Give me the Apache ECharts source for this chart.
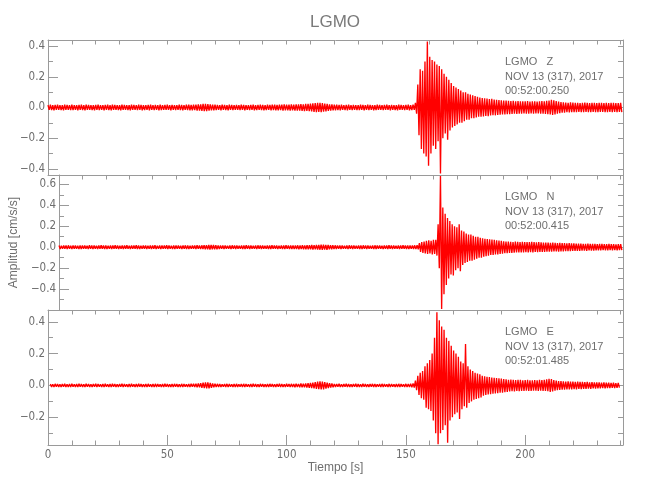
<!DOCTYPE html>
<html><head><meta charset="utf-8">
<script src="https://cdn.jsdelivr.net/npm/echarts@6/dist/echarts.min.js"></script>
<style>html,body{margin:0;padding:0;background:#fff}#c{width:650px;height:500px}</style>
</head><body><div id="c"></div>
<script>
// ---- Data (envelope of each trace, one pair per second) ----
const startZ = 0, startN = 0, startE = 1;

const zHi = [
.016,.018,.015,.017,.019,.016,.015,.018,.017,.016,
.018,.016,.015,.017,.018,.016,.019,.017,.015,.016,
.017,.018,.016,.015,.017,.019,.016,.018,.017,.015,
.016,.018,.017,.015,.016,.018,.017,.016,.019,.017,
.016,.015,.017,.018,.016,.017,.015,.018,.016,.017,
.018,.016,.017,.015,.016,.018,.017,.016,.018,.019,
.017,.018,.019,.02,.021,.023,.024,.022,.02,.019,
.018,.017,.016,.018,.017,.016,.018,.017,.016,.017,
.016,.018,.017,.016,.015,.017,.018,.016,.017,.018,
.017,.016,.018,.017,.019,.018,.017,.019,.018,.02,
.019,.018,.02,.019,.021,.02,.022,.021,.023,.024,
.025,.027,.029,.03,.031,.028,.026,.023,.021,.02,
.019,.018,.017,.018,.016,.017,.018,.016,.017,.015,
.016,.018,.017,.016,.018,.017,.015,.016,.018,.017,
.016,.017,.018,.016,.017,.015,.016,.018,.017,.016,
.017,.018,.016,.019,
.03,.15,.25,.24,.3,.43,
.33,.31,.3,.28,.27,.25,.22,.2,.18,.16,
.14,.13,.12,.11,.1,.1,.09,.085,.08,.075,
.07,.065,.062,.06,.058,.055,.056,.052,.05,.048,
.047,.045,.046,.044,.042,.043,.041,.042,.04,.041,
.04,.042,.039,.041,.04,.038,.04,.042,.041,.043,
.046,.05,.047,.042,.038,.035,.033,.032,.031,.033,
.032,.03,.031,.029,.03,.032,.03,.029,.031,.03,
.029,.03,.031,.028,.03,.029,.031,.03,.028,.029,.03];
const zLo = [
-.016,-.017,-.018,-.015,-.016,-.017,-.019,-.016,-.015,-.017,
-.017,-.015,-.018,-.016,-.017,-.019,-.016,-.015,-.017,-.018,
-.016,-.017,-.015,-.018,-.016,-.017,-.018,-.015,-.016,-.017,
-.018,-.016,-.015,-.017,-.018,-.016,-.015,-.017,-.016,-.018,
-.017,-.016,-.018,-.015,-.017,-.016,-.018,-.017,-.015,-.016,
-.016,-.018,-.015,-.017,-.016,-.017,-.018,-.016,-.017,-.018,
-.018,-.017,-.02,-.021,-.022,-.024,-.023,-.021,-.019,-.018,
-.017,-.016,-.018,-.016,-.017,-.018,-.016,-.017,-.015,-.016,
-.017,-.016,-.018,-.015,-.017,-.016,-.018,-.017,-.016,-.017,
-.018,-.017,-.016,-.018,-.017,-.019,-.018,-.017,-.02,-.019,
-.018,-.02,-.019,-.021,-.02,-.021,-.022,-.023,-.022,-.024,
-.026,-.028,-.03,-.029,-.031,-.027,-.025,-.022,-.021,-.019,
-.018,-.017,-.019,-.016,-.017,-.018,-.016,-.017,-.015,-.017,
-.017,-.016,-.018,-.015,-.017,-.016,-.018,-.017,-.016,-.015,
-.017,-.016,-.015,-.018,-.016,-.017,-.018,-.016,-.015,-.017,
-.016,-.018,-.017,-.016,
-.04,-.18,-.27,-.3,-.32,-.38,
-.3,-.25,-.27,-.22,-.43,-.2,-.17,-.21,-.15,-.13,
-.12,-.11,-.1,-.1,-.09,-.08,-.08,-.07,-.07,-.065,
-.06,-.06,-.058,-.055,-.056,-.052,-.05,-.051,-.048,-.047,
-.046,-.045,-.044,-.043,-.042,-.041,-.042,-.04,-.041,-.039,
-.04,-.041,-.039,-.04,-.038,-.039,-.041,-.04,-.042,-.044,
-.046,-.048,-.045,-.041,-.037,-.034,-.033,-.031,-.032,-.03,
-.031,-.03,-.029,-.031,-.03,-.028,-.03,-.031,-.029,-.03,
-.03,-.029,-.028,-.03,-.031,-.029,-.03,-.028,-.03,-.029,-.03];

const nHi = [
.016,.015,.017,.016,.018,.015,.016,.017,.015,.016,
.017,.016,.015,.018,.016,.017,.015,.016,.018,.017,
.016,.015,.017,.016,.018,.016,.015,.017,.016,.018,
.015,.017,.016,.018,.016,.015,.017,.016,.015,.017,
.016,.018,.015,.016,.017,.016,.018,.017,.015,.016,
.017,.016,.015,.017,.018,.016,.015,.017,.016,.018,
.017,.018,.019,.02,.021,.022,.021,.02,.018,.017,
.016,.017,.015,.016,.018,.017,.016,.015,.017,.016,
.018,.016,.017,.015,.016,.018,.017,.016,.015,.017,
.016,.018,.017,.016,.015,.017,.016,.018,.017,.016,
.017,.016,.018,.017,.019,.018,.02,.019,.021,.02,
.022,.023,.024,.025,.023,.022,.02,.019,.018,.017,
.016,.017,.015,.016,.018,.017,.016,.015,.017,.016,
.018,.016,.017,.015,.016,.018,.017,.016,.015,.017,
.016,.018,.017,.016,.015,.017,.016,.018,.017,.016,
.017,.016,.018,.02,
.04,.05,.055,.06,.065,.06,
.07,.07,.22,.68,.38,.32,.28,.25,.22,.2,
.19,.22,.16,.15,.13,.12,.12,.11,.1,.1,
.09,.085,.08,.078,.075,.072,.07,.066,.064,.06,
.056,.054,.055,.052,.05,.053,.051,.05,.052,.049,
.05,.048,.051,.049,.047,.05,.046,.044,.045,.043,
.042,.044,.041,.04,.042,.039,.04,.038,.039,.037,
.036,.035,.034,.035,.033,.032,.034,.033,.031,.032,
.03,.032,.031,.029,.03,.031,.029,.03,.028,.029,.03];
const nLo = [
-.017,-.016,-.015,-.018,-.016,-.017,-.015,-.016,-.018,-.017,
-.016,-.015,-.017,-.016,-.018,-.015,-.017,-.016,-.015,-.018,
-.017,-.016,-.018,-.015,-.016,-.017,-.016,-.018,-.015,-.016,
-.017,-.016,-.015,-.017,-.018,-.016,-.015,-.017,-.016,-.018,
-.015,-.017,-.016,-.018,-.016,-.015,-.017,-.016,-.018,-.017,
-.016,-.015,-.017,-.016,-.018,-.017,-.016,-.015,-.017,-.016,
-.018,-.017,-.019,-.021,-.022,-.02,-.021,-.019,-.018,-.016,
-.017,-.015,-.016,-.018,-.016,-.017,-.015,-.016,-.018,-.017,
-.016,-.017,-.015,-.016,-.018,-.016,-.017,-.015,-.016,-.018,
-.017,-.016,-.015,-.017,-.016,-.018,-.017,-.016,-.018,-.017,
-.018,-.017,-.019,-.018,-.02,-.019,-.021,-.02,-.022,-.021,
-.023,-.024,-.025,-.023,-.024,-.021,-.02,-.018,-.017,-.016,
-.017,-.015,-.016,-.018,-.016,-.017,-.015,-.016,-.017,-.018,
-.016,-.017,-.015,-.016,-.018,-.017,-.016,-.015,-.017,-.016,
-.017,-.016,-.018,-.015,-.016,-.017,-.016,-.015,-.017,-.018,
-.016,-.017,-.018,-.02,
-.045,-.055,-.06,-.065,-.06,-.07,
-.065,-.08,-.2,-.59,-.45,-.36,-.3,-.26,-.27,-.22,
-.2,-.23,-.17,-.15,-.14,-.13,-.13,-.12,-.11,-.1,
-.1,-.09,-.085,-.08,-.075,-.073,-.07,-.068,-.065,-.062,
-.058,-.056,-.054,-.055,-.052,-.05,-.051,-.049,-.05,-.048,
-.049,-.047,-.05,-.046,-.048,-.045,-.044,-.046,-.043,-.042,
-.043,-.041,-.04,-.042,-.039,-.04,-.038,-.037,-.038,-.036,
-.035,-.034,-.036,-.033,-.032,-.034,-.031,-.033,-.032,-.03,
-.031,-.03,-.029,-.031,-.03,-.028,-.03,-.029,-.03,-.028,-.029];

const eHi = [
.009,.008,.01,.009,.008,.009,.01,.008,.009,.01,
.008,.009,.01,.009,.008,.01,.009,.008,.009,.01,
.009,.008,.009,.01,.008,.009,.01,.009,.008,.009,
.01,.009,.008,.009,.01,.008,.009,.01,.009,.008,
.009,.01,.008,.009,.01,.009,.008,.009,.01,.009,
.008,.009,.01,.009,.008,.01,.009,.008,.009,.01,
.01,.011,.013,.015,.018,.02,.019,.016,.013,.011,
.01,.009,.008,.009,.01,.009,.008,.009,.01,.008,
.009,.01,.009,.008,.009,.01,.009,.008,.01,.009,
.008,.009,.01,.009,.008,.009,.01,.009,.008,.01,
.009,.01,.009,.011,.01,.012,.011,.013,.014,.016,
.018,.021,.024,.026,.025,.021,.017,.014,.012,.01,
.009,.01,.008,.009,.01,.009,.008,.009,.01,.009,
.008,.01,.009,.008,.009,.01,.009,.008,.009,.01,
.009,.008,.01,.009,.008,.009,.01,.009,.008,.01,
.009,.011,.013,
.03,.06,.08,.09,.12,.14,
.16,.2,.3,.46,.41,.37,.35,.3,.28,.25,
.22,.2,.18,.15,.14,.26,.12,.1,.09,.08,
.075,.07,.06,.058,.055,.053,.05,.048,.047,.045,
.044,.04,.038,.036,.037,.035,.034,.036,.035,.033,
.034,.035,.033,.032,.034,.033,.035,.034,.036,.038,
.042,.04,.034,.03,.028,.027,.026,.025,.026,.024,
.025,.023,.024,.022,.023,.021,.022,.02,.021,.02,
.019,.02,.018,.019,.017,.018,.016,.017,.015,.016];
const eLo = [
-.009,-.01,-.008,-.009,-.01,-.008,-.009,-.01,-.009,-.008,
-.01,-.009,-.008,-.01,-.009,-.008,-.009,-.01,-.008,-.009,
-.008,-.01,-.009,-.008,-.01,-.009,-.008,-.009,-.01,-.008,
-.009,-.008,-.01,-.009,-.008,-.01,-.009,-.008,-.01,-.009,
-.01,-.008,-.009,-.01,-.009,-.008,-.01,-.009,-.008,-.009,
-.009,-.01,-.008,-.009,-.01,-.009,-.008,-.01,-.009,-.008,
-.009,-.011,-.012,-.015,-.017,-.019,-.018,-.015,-.012,-.01,
-.009,-.01,-.008,-.009,-.01,-.008,-.009,-.01,-.009,-.008,
-.01,-.009,-.008,-.01,-.009,-.008,-.009,-.01,-.008,-.009,
-.009,-.01,-.008,-.009,-.01,-.008,-.009,-.01,-.009,-.008,
-.01,-.009,-.011,-.01,-.012,-.011,-.012,-.014,-.015,-.017,
-.019,-.022,-.023,-.025,-.024,-.02,-.016,-.013,-.011,-.01,
-.008,-.009,-.01,-.008,-.009,-.01,-.009,-.008,-.009,-.01,
-.009,-.008,-.01,-.009,-.008,-.01,-.009,-.008,-.01,-.009,
-.008,-.009,-.01,-.008,-.009,-.01,-.009,-.008,-.009,-.01,
-.01,-.012,-.014,
-.03,-.06,-.08,-.09,-.14,-.15,
-.16,-.22,-.3,-.37,-.3,-.28,-.25,-.36,-.22,-.2,
-.18,-.17,-.21,-.15,-.13,-.14,-.11,-.1,-.09,-.085,
-.08,-.075,-.065,-.06,-.057,-.055,-.052,-.05,-.048,-.046,
-.045,-.042,-.04,-.038,-.036,-.037,-.035,-.036,-.034,-.035,
-.033,-.034,-.035,-.032,-.033,-.034,-.032,-.035,-.034,-.036,
-.04,-.038,-.033,-.03,-.028,-.026,-.027,-.025,-.024,-.025,
-.023,-.024,-.022,-.023,-.021,-.022,-.02,-.021,-.019,-.02,
-.018,-.019,-.017,-.018,-.016,-.017,-.015,-.016,-.015,-.014];

// ---- Axes / labels ----
const titleText = 'LGMO';
const xName = 'Tiempo [s]';
const yName = 'Amplitud [cm/s/s]';
const xRange = [0, 241];
const xMajorTicks = [0, 50, 100, 150, 200];
const xMinorTicks = [10,20,30,40,60,70,80,90,110,120,130,140,160,170,180,190,210,220,230,240];
const xTopTicks = [10,20,30,40,50,60,70,80,90,100,110,120,130,140,150,160,170,180,190,200,210,220,230,240];
const yRanges = [[-0.44, 0.44], [-0.6, 0.69], [-0.374, 0.474]];
const yMajorTicks = [[-0.4,-0.2,0,0.2,0.4], [-0.4,-0.2,0,0.2,0.4,0.6], [-0.2,0,0.2,0.4]];
const yMinorTicks = [[-0.3,-0.1,0.1,0.3], [-0.5,-0.3,-0.1,0.1,0.3,0.5], [-0.3,-0.1,0.1,0.3]];
const yRightTicks = [
  [-0.4,-0.3,-0.2,-0.1,0,0.1,0.2,0.3,0.4],
  [-0.5,-0.4,-0.3,-0.2,-0.1,0,0.1,0.2,0.3,0.4,0.5,0.6],
  [-0.3,-0.2,-0.1,0,0.1,0.2,0.3,0.4]];
const stationLines = ['LGMO   Z', 'LGMO   N', 'LGMO   E'];
const dateLines = ['NOV 13 (317), 2017', 'NOV 13 (317), 2017', 'NOV 13 (317), 2017'];
const timeLines = ['00:52:00.250', '00:52:00.415', '00:52:01.485'];

// ---- Build ----
const traces = [[startZ, zHi, zLo], [startN, nHi, nLo], [startE, eHi, eLo]];
function zigzag(t0, hi, lo) {
  const pts = [];
  for (let i = 0; i < hi.length; i++) {
    pts.push([t0 + i, hi[i]]);
    pts.push([t0 + i + 0.5, lo[i]]);
  }
  return pts;
}

const AXC = '#9a9a9a', TXC = '#6e6e6e';
const FONT = "'Liberation Sans Narrow','DejaVu Sans Condensed','Liberation Sans',sans-serif";
const FONT2 = "'Liberation Sans',Arial,sans-serif";
const L = 48, R = 27, H = 135, tops = [40, 175, 310];

const grid = [], xAxis = [], yAxis = [], series = [], graphic = [];
function fmt(v) { return (v < 0 ? '\u2212' : '') + Math.abs(v).toFixed(1); }

for (let p = 0; p < 3; p++) {
  grid.push({ left: L, right: R, top: tops[p], height: H, containLabel: false });
  const last = p === 2;
  xAxis.push({
    gridIndex: p, type: 'value', position: 'bottom', min: xRange[0], max: xRange[1],
    axisLine: { show: true, onZero: false, lineStyle: { color: AXC, width: 1 } },
    axisTick: { show: last, inside: true, length: 10, customValues: xMajorTicks, lineStyle: { color: AXC } },
    axisLabel: { show: last, customValues: xMajorTicks, margin: 4, color: TXC, fontFamily: FONT, fontSize: 11.5 },
    splitLine: { show: false },
    name: last ? xName : '', nameLocation: 'middle', nameGap: 16,
    nameTextStyle: { color: TXC, fontFamily: FONT2, fontSize: 12 }
  });
  xAxis.push({
    gridIndex: p, type: 'value', position: 'bottom', min: xRange[0], max: xRange[1],
    axisLine: { show: false, onZero: false },
    axisTick: { show: last, inside: true, length: 4.5, customValues: xMinorTicks, lineStyle: { color: AXC } },
    axisLabel: { show: false }, splitLine: { show: false }
  });
  xAxis.push({
    gridIndex: p, type: 'value', position: 'top', min: xRange[0], max: xRange[1],
    axisLine: { show: true, onZero: false, lineStyle: { color: AXC, width: 1 } },
    axisTick: { show: true, inside: true, length: 4.5, customValues: xTopTicks, lineStyle: { color: AXC } },
    axisLabel: { show: false }, splitLine: { show: false }
  });
  yAxis.push({
    gridIndex: p, type: 'value', position: 'left', min: yRanges[p][0], max: yRanges[p][1],
    axisLine: { show: true, onZero: false, lineStyle: { color: AXC, width: 1 } },
    axisTick: { show: true, inside: true, length: 10, customValues: yMajorTicks[p], lineStyle: { color: AXC } },
    axisLabel: { show: true, customValues: yMajorTicks[p], formatter: fmt, margin: 3, color: TXC, fontFamily: FONT, fontSize: 11.5 },
    splitLine: { show: false },
    name: p === 1 ? yName : '', nameLocation: 'middle', nameGap: 28,
    nameTextStyle: { color: TXC, fontFamily: FONT2, fontSize: 12 }
  });
  yAxis.push({
    gridIndex: p, type: 'value', position: 'left', min: yRanges[p][0], max: yRanges[p][1],
    axisLine: { show: false, onZero: false },
    axisTick: { show: true, inside: true, length: 5, customValues: yMinorTicks[p], lineStyle: { color: AXC } },
    axisLabel: { show: false }, splitLine: { show: false }
  });
  yAxis.push({
    gridIndex: p, type: 'value', position: 'right', min: yRanges[p][0], max: yRanges[p][1],
    axisLine: { show: true, onZero: false, lineStyle: { color: AXC, width: 1 } },
    axisTick: { show: true, inside: true, length: 5, customValues: yRightTicks[p], lineStyle: { color: AXC } },
    axisLabel: { show: false }, splitLine: { show: false }
  });
  const tr = traces[p];
  series.push({
    type: 'line', xAxisIndex: 3 * p, yAxisIndex: 3 * p,
    data: zigzag(tr[0], tr[1], tr[2]),
    showSymbol: false, symbol: 'none', sampling: null, clip: true,
    lineStyle: { color: '#ff0000', width: 1.35 },
    silent: true, animation: false, z: 1
  });
  const lines = [stationLines[p], dateLines[p], timeLines[p]];
  const offs = [22, 36.5, 51];
  for (let k = 0; k < 3; k++) {
    graphic.push({
      type: 'text', x: 505, y: tops[p] + offs[k], z: 10,
      style: { text: lines[k], fill: TXC, font: "11px 'Liberation Sans', Arial, sans-serif",
               textAlign: 'left', textVerticalAlign: 'middle', align: 'left', verticalAlign: 'middle' }
    });
  }
}
graphic.push({
  type: 'text', x: 335, y: 22, z: 10,
  style: { text: titleText, fill: '#7a7a7a', font: "17px 'Liberation Sans', Arial, sans-serif",
           textAlign: 'center', textVerticalAlign: 'middle', align: 'center', verticalAlign: 'middle' }
});

const chart = echarts.init(document.getElementById('c'), null, { renderer: 'canvas' });
chart.setOption({
  animation: false,
  backgroundColor: '#ffffff',
  grid, xAxis, yAxis, series, graphic
});
</script>
</body></html>
